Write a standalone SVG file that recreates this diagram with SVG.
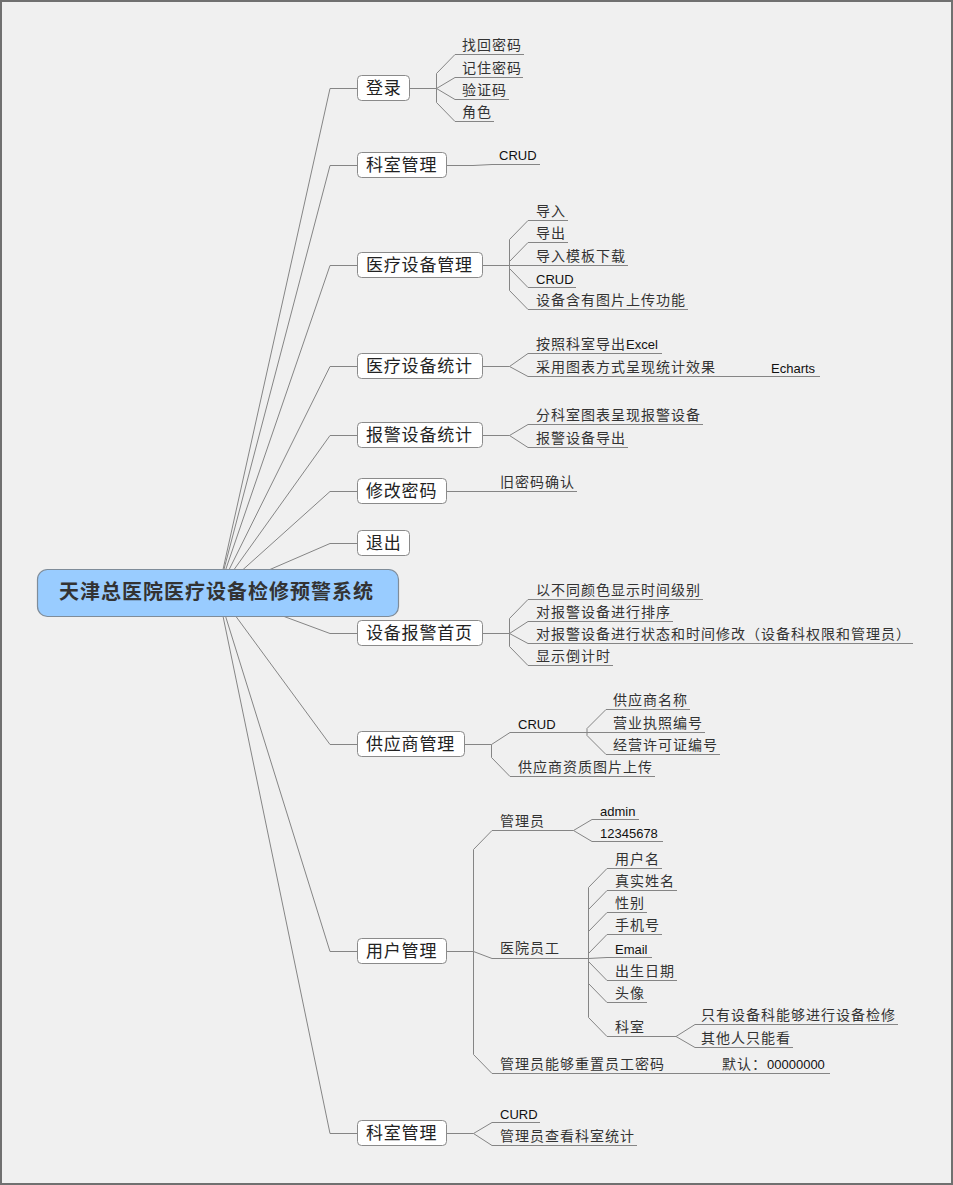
<svg xmlns="http://www.w3.org/2000/svg" width="953" height="1185" viewBox="0 0 953 1185">
<style>
.bg{fill:#f0f0f0;stroke:#707070;stroke-width:2}
.ln path{fill:none;stroke:#858585;stroke-width:1}
.root rect{fill:#99ccff;stroke:#7f8c99;stroke-width:1.2}
.root text{font-family:"Noto Sans CJK SC",sans-serif;font-size:20px;font-weight:bold;letter-spacing:1px;fill:#333}
.n1 rect{fill:#fff;stroke:#8a8a8a;stroke-width:1}
.n1 text{font-family:"Noto Sans CJK SC",sans-serif;font-size:17px;letter-spacing:0.8px;fill:#222}
.n2{font-family:"Noto Sans CJK SC",sans-serif;font-size:14px;letter-spacing:1px;fill:#333}
.lat{font-family:"Liberation Sans",Arial,sans-serif;font-size:13px;letter-spacing:0;fill:#111}
</style>
<rect class="bg" x="1" y="1" width="951" height="1183"/>
<g id="connectors" class="ln">
<path d="M218,592 L330,88.5 H357"/>
<path d="M218,592 L330,165.5 H357"/>
<path d="M218,592 L330,265.5 H357"/>
<path d="M218,592 L330,366.5 H357"/>
<path d="M218,592 L330,435.5 H357"/>
<path d="M218,592 L330,491.5 H357"/>
<path d="M218,592 L330,543.5 H357"/>
<path d="M218,592 L330,633.5 H357"/>
<path d="M218,592 L330,744.5 H357"/>
<path d="M218,592 L330,951.5 H357"/>
<path d="M218,592 L330,1133.5 H357"/>
<path d="M409,88.5 H436.5"/>
<path d="M436.5,88.5 V73.5 L455,54.5 H524"/>
<path d="M436.5,88.5 L455,77.5 H523"/>
<path d="M436.5,88.5 L455,99.5 H509"/>
<path d="M436.5,88.5 V102.5 L455,121.5 H494"/>
<path d="M446,165.5 H473 L492,164.5 H540"/>
<path d="M482,265.5 H509.5"/>
<path d="M509.5,265.5 V239.5 L528,220.5 H568"/>
<path d="M509.5,265.5 V261.5 L528,242.5 H568"/>
<path d="M509.5,265.5 H628"/>
<path d="M509.5,265.5 V268.5 L528,287.5 H576"/>
<path d="M509.5,265.5 V290.5 L528,309.5 H688"/>
<path d="M482,366.5 H509.5"/>
<path d="M509.5,366.5 L528,353.5 H662"/>
<path d="M509.5,366.5 L528,376.5 H718"/>
<path d="M718,376.5 H820"/>
<path d="M482,435.5 H509.5"/>
<path d="M509.5,435.5 L528,424.5 H703"/>
<path d="M509.5,435.5 L528,447.5 H628"/>
<path d="M446,491.5 H577"/>
<path d="M482,633.5 H509.5"/>
<path d="M509.5,633.5 V618.5 L528,599.5 H703"/>
<path d="M509.5,633.5 L528,621.5 H673"/>
<path d="M509.5,633.5 L528,643.5 H913"/>
<path d="M509.5,633.5 V646.5 L528,665.5 H613"/>
<path d="M464,744.5 H491.5"/>
<path d="M491.5,744.5 L510,732.5 H587"/>
<path d="M491.5,744.5 V757.5 L510,776.5 H655"/>
<path d="M587,732.5 V728.5 L606,709.5 H690"/>
<path d="M587,732.5 H705"/>
<path d="M587,732.5 V735.5 L606,754.5 H720"/>
<path d="M446,951.5 H473.5"/>
<path d="M473.5,951.5 V849.5 L492,830.5 H573.5"/>
<path d="M473.5,951.5 L492,958.5 H588.5"/>
<path d="M473.5,951.5 V1054.5 L492,1073.5 H705"/>
<path d="M705,1073.5 H830"/>
<path d="M573.5,830.5 L592,819.5 H639"/>
<path d="M573.5,830.5 L592,841.5 H663"/>
<path d="M588.5,958.5 V887.5 L607,868.5 H662"/>
<path d="M588.5,958.5 V909.5 L607,890.5 H677"/>
<path d="M588.5,958.5 V931.5 L607,912.5 H647"/>
<path d="M588.5,958.5 V953.5 L607,934.5 H662"/>
<path d="M588.5,958.5 L607,957.5 H652"/>
<path d="M588.5,958.5 V961.5 L607,980.5 H677"/>
<path d="M588.5,958.5 V983.5 L607,1002.5 H647"/>
<path d="M588.5,958.5 V1017.5 L607,1036.5 H676"/>
<path d="M676,1036.5 L695,1024.5 H898"/>
<path d="M676,1036.5 L695,1047.5 H793"/>
<path d="M446,1133.5 H473.5"/>
<path d="M473.5,1133.5 L492,1122.5 H540"/>
<path d="M473.5,1133.5 L492,1145.5 H637"/>
</g>
<g id="root" class="root">
<rect x="37.5" y="569.5" width="361" height="47" rx="10"/>
<text x="59" y="599">天津总医院医疗设备检修预警系统</text>
</g>
<g id="n-login" class="n1">
<rect x="357.5" y="75.5" width="52" height="25" rx="4"/>
<text x="366" y="94">登录</text>
</g>
<g id="n-login-kids" class="n2">
<text x="462" y="50">找回密码</text>
<text x="462" y="73">记住密码</text>
<text x="462" y="95">验证码</text>
<text x="462" y="117">角色</text>
</g>
<g id="n-dept" class="n1">
<rect x="357.5" y="152.5" width="89" height="25" rx="4"/>
<text x="366" y="171">科室管理</text>
</g>
<g id="n-dept-kids"><text class="lat" x="499" y="160">CRUD</text></g>
<g id="n-equip" class="n1">
<rect x="357.5" y="252.5" width="125" height="25" rx="4"/>
<text x="366" y="271">医疗设备管理</text>
</g>
<g id="n-equip-kids" class="n2">
<text x="536" y="216">导入</text>
<text x="536" y="238">导出</text>
<text x="536" y="261">导入模板下载</text>
<text class="lat" x="536" y="283.5">CRUD</text>
<text x="536" y="305">设备含有图片上传功能</text>
</g>
<g id="n-stat" class="n1">
<rect x="357.5" y="353.5" width="125" height="25" rx="4"/>
<text x="366" y="372">医疗设备统计</text>
</g>
<g id="n-stat-kids" class="n2">
<text x="536" y="349">按照科室导出<tspan class="lat">Excel</tspan></text>
<text x="536" y="372">采用图表方式呈现统计效果</text>
<text class="lat" x="771" y="372.5">Echarts</text>
</g>
<g id="n-alarmstat" class="n1">
<rect x="357.5" y="422.5" width="125" height="25" rx="4"/>
<text x="366" y="441">报警设备统计</text>
</g>
<g id="n-alarmstat-kids" class="n2">
<text x="536" y="420">分科室图表呈现报警设备</text>
<text x="536" y="443">报警设备导出</text>
</g>
<g id="n-pwd" class="n1">
<rect x="357.5" y="478.5" width="89" height="25" rx="4"/>
<text x="366" y="497">修改密码</text>
</g>
<g id="n-pwd-kids" class="n2"><text x="500" y="487">旧密码确认</text></g>
<g id="n-exit" class="n1">
<rect x="357.5" y="530.5" width="52" height="25" rx="4"/>
<text x="366" y="549">退出</text>
</g>
<g id="n-home" class="n1">
<rect x="357.5" y="620.5" width="125" height="25" rx="4"/>
<text x="366" y="639">设备报警首页</text>
</g>
<g id="n-home-kids" class="n2">
<text x="536" y="595">以不同颜色显示时间级别</text>
<text x="536" y="617">对报警设备进行排序</text>
<text x="536" y="639">对报警设备进行状态和时间修改（设备科权限和管理员）</text>
<text x="536" y="661">显示倒计时</text>
</g>
<g id="n-supplier" class="n1">
<rect x="357.5" y="731.5" width="107" height="25" rx="4"/>
<text x="366" y="750">供应商管理</text>
</g>
<g id="n-supplier-kids" class="n2">
<text class="lat" x="518" y="728.5">CRUD</text>
<text x="518" y="772">供应商资质图片上传</text>
<text x="613" y="705">供应商名称</text>
<text x="613" y="728">营业执照编号</text>
<text x="613" y="750">经营许可证编号</text>
</g>
<g id="n-user" class="n1">
<rect x="357.5" y="938.5" width="89" height="25" rx="4"/>
<text x="366" y="957">用户管理</text>
</g>
<g id="n-user-kids" class="n2">
<text x="500" y="826">管理员</text>
<text class="lat" x="600" y="815.5">admin</text>
<text class="lat" x="600" y="837.5">12345678</text>
<text x="500" y="953">医院员工</text>
<text x="615" y="864">用户名</text>
<text x="615" y="886">真实姓名</text>
<text x="615" y="908">性别</text>
<text x="615" y="930">手机号</text>
<text class="lat" x="615" y="953.5">Email</text>
<text x="615" y="976">出生日期</text>
<text x="615" y="998">头像</text>
<text x="615" y="1032">科室</text>
<text x="701" y="1020">只有设备科能够进行设备检修</text>
<text x="701" y="1043">其他人只能看</text>
<text x="500" y="1069">管理员能够重置员工密码</text>
<text x="722" y="1069">默认：<tspan class="lat">00000000</tspan></text>
</g>
<g id="n-dept2" class="n1">
<rect x="357.5" y="1120.5" width="89" height="25" rx="4"/>
<text x="366" y="1139">科室管理</text>
</g>
<g id="n-dept2-kids" class="n2">
<text class="lat" x="500" y="1118.5">CURD</text>
<text x="500" y="1141">管理员查看科室统计</text>
</g>
</svg>
